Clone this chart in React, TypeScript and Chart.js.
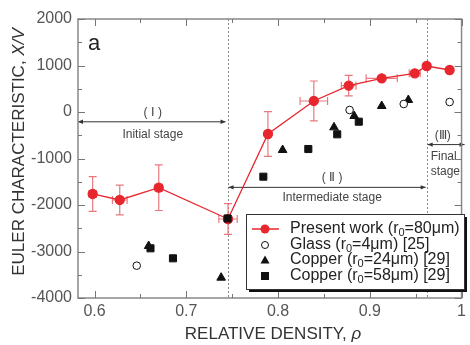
import React, { useEffect, useRef } from "react";
import { Chart, registerables } from "chart.js";

Chart.register(...registerables);

const presentX = [0.598, 0.6275, 0.67, 0.7455, 0.789, 0.839, 0.877, 0.913, 0.949, 0.962, 0.987];
const presentY = [-1763, -1892, -1628, -2301, -473, 237, 566, 724, 832, 989, 903];
const presentYErr = [375, 320, 490, 330, 480, 430, 220, 0, 60, 0, 0];
const presentXErr = [0.004, 0.008, 0.004, 0.01, 0, 0.015, 0.008, 0.017, 0.006, 0, 0];

const glassX = [0.646, 0.878, 0.937, 0.987];
const glassY = [-3305, 43, 172, 215];

const cu24X = [0.659, 0.738, 0.805, 0.861, 0.883, 0.913, 0.942];
const cu24Y = [-2882, -3563, -817, -330, -86, 129, 258];

const cu58X = [0.661, 0.6855, 0.745, 0.784, 0.833, 0.8645, 0.888];
const cu58Y = [-2932, -3147, -2290, -1391, -796, -480, -208];

const xTicks = [0.6, 0.7, 0.8, 0.9, 1.0];
const xMinor = [0.65, 0.75, 0.85, 0.95];
const yTicks = [-4000, -3000, -2000, -1000, 0, 1000, 2000];
const yMinor = [-3500, -2500, -1500, -500, 500, 1500];

const stageBounds = [0.745, 0.962];

const FONT = '"Liberation Sans", Arial, Helvetica, sans-serif';
const RED = "#e8262e";
const ERR = "#e87a7e";

const toPts = (xs: number[], ys: number[]) => xs.map((x, i) => ({ x, y: ys[i] }));

function drawArrowHead(ctx: CanvasRenderingContext2D, x: number, y: number, dir: number) {
  ctx.beginPath();
  ctx.moveTo(x, y);
  ctx.lineTo(x - dir * 5, y - 2.2);
  ctx.lineTo(x - dir * 5, y + 2.2);
  ctx.closePath();
  ctx.fill();
}

function drawSubText(ctx: CanvasRenderingContext2D, x: number, y: number, parts: [string, boolean][]) {
  let cx = x;
  for (const [t, sub] of parts) {
    ctx.font = sub ? `11px ${FONT}` : `16px ${FONT}`;
    ctx.fillText(t, cx, sub ? y + 4 : y);
    cx += ctx.measureText(t).width;
  }
}

const customPlugin = {
  id: "custom",
  beforeDatasetsDraw(chart: any) {
    const { ctx, chartArea: ca, scales } = chart;
    const xs = scales.x, ys = scales.y;
    ctx.save();
    ctx.strokeStyle = "#888";
    ctx.lineWidth = 1;
    ctx.setLineDash([2, 2]);
    for (const b of stageBounds) {
      const px = Math.round(xs.getPixelForValue(b)) + 0.5;
      ctx.beginPath();
      ctx.moveTo(px, ca.top);
      ctx.lineTo(px, ca.bottom);
      ctx.stroke();
    }
    ctx.setLineDash([]);

    ctx.strokeStyle = "#333";
    ctx.fillStyle = "#333";
    const b1 = xs.getPixelForValue(stageBounds[0]);
    const b2 = xs.getPixelForValue(stageBounds[1]);
    const arrows = [
      { x1: ca.left, x2: b1 - 2, y: ys.getPixelForValue(-200) },
      { x1: b1 + 1, x2: b2 - 1, y: ys.getPixelForValue(-1610) },
      { x1: b2 + 1, x2: ca.right + 3, y: ys.getPixelForValue(-690) },
    ];
    for (const a of arrows) {
      ctx.beginPath();
      ctx.moveTo(a.x1, a.y + 0.5);
      ctx.lineTo(a.x2, a.y + 0.5);
      ctx.stroke();
      drawArrowHead(ctx, a.x2, a.y + 0.5, 1);
      drawArrowHead(ctx, a.x1, a.y + 0.5, -1);
    }

    ctx.fillStyle = "#444";
    ctx.textBaseline = "middle";
    ctx.textAlign = "center";
    ctx.font = `12px ${FONT}`;
    const ca1 = (ca.left + b1) / 2;
    ctx.fillText("( Ⅰ )", ca1, arrows[0].y - 9);
    ctx.fillText("Initial stage", ca1, arrows[0].y + 13);
    const ca2 = (b1 + b2) / 2;
    ctx.fillText("( Ⅱ )", ca2 + 5, arrows[1].y - 9);
    ctx.fillText("Intermediate stage", ca2 + 5, arrows[1].y + 11);
    ctx.textAlign = "left";
    ctx.fillText("(Ⅲ)", b2 + 8, arrows[2].y - 8);
    ctx.fillText("Final", b2 + 4, arrows[2].y + 13);
    ctx.fillText("stage", b2 + 4, arrows[2].y + 28);

    ctx.fillStyle = "#222";
    ctx.textAlign = "left";
    ctx.font = `22px ${FONT}`;
    ctx.fillText("a", ca.left + 10, ca.top + 25);

    ctx.strokeStyle = ERR;
    ctx.lineWidth = 1.2;
    for (let i = 0; i < presentX.length; i++) {
      const px = xs.getPixelForValue(presentX[i]);
      const py = ys.getPixelForValue(presentY[i]);
      if (presentYErr[i] > 0) {
        const t = ys.getPixelForValue(presentY[i] + presentYErr[i]);
        const b = ys.getPixelForValue(presentY[i] - presentYErr[i]);
        ctx.beginPath();
        ctx.moveTo(px, t); ctx.lineTo(px, b);
        ctx.moveTo(px - 4, t); ctx.lineTo(px + 4, t);
        ctx.moveTo(px - 4, b); ctx.lineTo(px + 4, b);
        ctx.stroke();
      }
      if (presentXErr[i] > 0) {
        const l = xs.getPixelForValue(presentX[i] - presentXErr[i]);
        const r = xs.getPixelForValue(presentX[i] + presentXErr[i]);
        ctx.beginPath();
        ctx.moveTo(l, py); ctx.lineTo(r, py);
        ctx.moveTo(l, py - 4); ctx.lineTo(l, py + 4);
        ctx.moveTo(r, py - 4); ctx.lineTo(r, py + 4);
        ctx.stroke();
      }
    }
    ctx.restore();
  },
  afterDraw(chart: any) {
    const { ctx, chartArea: ca, scales } = chart;
    const xs = scales.x, ys = scales.y;
    ctx.save();
    ctx.strokeStyle = "#888";
    ctx.lineWidth = 1.5;
    ctx.strokeRect(ca.left, ca.top, ca.right - ca.left, ca.bottom - ca.top);
    ctx.lineWidth = 1;
    ctx.strokeStyle = "#777";
    ctx.beginPath();
    for (const v of xTicks) {
      const p = Math.round(xs.getPixelForValue(v)) + 0.5;
      ctx.moveTo(p, ca.bottom); ctx.lineTo(p, ca.bottom - 7);
      ctx.moveTo(p, ca.top); ctx.lineTo(p, ca.top + 7);
    }
    for (const v of xMinor) {
      const p = Math.round(xs.getPixelForValue(v)) + 0.5;
      ctx.moveTo(p, ca.bottom); ctx.lineTo(p, ca.bottom - 4);
      ctx.moveTo(p, ca.top); ctx.lineTo(p, ca.top + 4);
    }
    for (const v of yTicks) {
      const p = Math.round(ys.getPixelForValue(v)) + 0.5;
      ctx.moveTo(ca.left, p); ctx.lineTo(ca.left + 7, p);
      ctx.moveTo(ca.right, p); ctx.lineTo(ca.right - 7, p);
    }
    for (const v of yMinor) {
      const p = Math.round(ys.getPixelForValue(v)) + 0.5;
      ctx.moveTo(ca.left, p); ctx.lineTo(ca.left + 4, p);
      ctx.moveTo(ca.right, p); ctx.lineTo(ca.right - 4, p);
    }
    ctx.stroke();

    ctx.fillStyle = "#333";
    ctx.textBaseline = "middle";
    ctx.font = `17px ${FONT}`;
    const xt = "RELATIVE DENSITY, ";
    const wxt = ctx.measureText(xt).width;
    ctx.font = `italic 17px ${FONT}`;
    const wr = ctx.measureText("ρ").width;
    const startX = 273 - (wxt + wr) / 2;
    ctx.textAlign = "left";
    ctx.font = `17px ${FONT}`;
    ctx.fillText(xt, startX, 334);
    ctx.font = `italic 17px ${FONT}`;
    ctx.fillText("ρ", startX + wxt, 334);

    ctx.save();
    ctx.translate(19, 152);
    ctx.rotate(-Math.PI / 2);
    ctx.font = `17px ${FONT}`;
    const yt = "EULER CHARACTERISTIC, ";
    const wyt = ctx.measureText(yt).width;
    ctx.font = `italic 17px ${FONT}`;
    const wv = ctx.measureText("X/V").width;
    const sy = -(wyt + wv) / 2;
    ctx.font = `17px ${FONT}`;
    ctx.fillText(yt, sy, 0);
    ctx.font = `italic 17px ${FONT}`;
    ctx.fillText("X/V", sy + wyt, 0);
    ctx.restore();

    const lx = 246, ly = 214, lw = 218, lh = 75;
    ctx.fillStyle = "#111";
    ctx.fillRect(lx + 3, ly + 3, lw, lh);
    ctx.fillStyle = "#fff";
    ctx.fillRect(lx, ly, lw, lh);
    ctx.strokeStyle = "#333";
    ctx.lineWidth = 1;
    ctx.strokeRect(lx + 0.5, ly + 0.5, lw, lh);

    const rows = [229, 245, 260, 276];
    const mx = 265;
    ctx.strokeStyle = RED;
    ctx.lineWidth = 1.5;
    ctx.beginPath();
    ctx.moveTo(252, rows[0]); ctx.lineTo(279, rows[0]);
    ctx.stroke();
    ctx.fillStyle = RED;
    ctx.beginPath(); ctx.arc(mx, rows[0], 4.5, 0, Math.PI * 2); ctx.fill();
    ctx.strokeStyle = "#111";
    ctx.lineWidth = 1;
    ctx.fillStyle = "#fff";
    ctx.beginPath(); ctx.arc(mx, rows[1], 3.5, 0, Math.PI * 2); ctx.fill(); ctx.stroke();
    ctx.fillStyle = "#111";
    ctx.beginPath();
    ctx.moveTo(mx, rows[2] - 4.5); ctx.lineTo(mx + 4.5, rows[2] + 3.5); ctx.lineTo(mx - 4.5, rows[2] + 3.5);
    ctx.closePath(); ctx.fill();
    ctx.fillRect(mx - 4, rows[3] - 4, 8, 8);

    ctx.fillStyle = "#222";
    ctx.textAlign = "left";
    ctx.textBaseline = "middle";
    const tx = 290;
    drawSubText(ctx, tx, rows[0], [["Present work (r", false], ["0", true], ["=80μm)", false]]);
    drawSubText(ctx, tx, rows[1], [["Glass (r", false], ["0", true], ["=4μm) [25]", false]]);
    drawSubText(ctx, tx, rows[2], [["Copper (r", false], ["0", true], ["=24μm) [29]", false]]);
    drawSubText(ctx, tx, rows[3], [["Copper (r", false], ["0", true], ["=58μm) [29]", false]]);
    ctx.restore();
  },
};

export default function App() {
  const ref = useRef<HTMLCanvasElement>(null);
  useEffect(() => {
    if (!ref.current) return;
    const chart = new Chart(ref.current, {
      type: "scatter",
      data: {
        datasets: [
          {
            label: "Present work",
            data: toPts(presentX, presentY),
            showLine: true,
            borderColor: RED,
            borderWidth: 1.3,
            backgroundColor: RED,
            pointBackgroundColor: RED,
            pointBorderColor: RED,
            pointRadius: 4.5,
            pointStyle: "circle",
            order: 2,
          },
          {
            label: "Glass",
            data: toPts(glassX, glassY),
            pointStyle: "circle",
            pointRadius: 3.8,
            pointBackgroundColor: "#fff",
            pointBorderColor: "#111",
            pointBorderWidth: 1,
            order: 1,
          },
          {
            label: "Copper 24",
            data: toPts(cu24X, cu24Y),
            pointStyle: "triangle",
            pointRadius: 5,
            pointBackgroundColor: "#111",
            pointBorderColor: "#111",
            order: 1,
          },
          {
            label: "Copper 58",
            data: toPts(cu58X, cu58Y),
            pointStyle: "rect",
            pointRadius: 5,
            pointBackgroundColor: "#111",
            pointBorderColor: "#111",
            order: 1,
          },
        ],
      },
      options: {
        animation: false,
        responsive: false,
        devicePixelRatio: 1,
        layout: { padding: { left: 0, right: 2, top: 19, bottom: 0 } },
        plugins: { legend: { display: false }, tooltip: { enabled: false } },
        scales: {
          x: {
            type: "linear",
            min: 0.582,
            max: 1.0,
            grid: { display: false, drawTicks: false },
            border: { display: false },
            afterFit: (s: any) => { s.height = 47; },
            afterBuildTicks: (s: any) => { s.ticks = xTicks.map((v) => ({ value: v })); },
            ticks: {
              padding: 4,
              color: "#555",
              font: { family: FONT, size: 16 },
              callback: (v: any) => (Number(v) === 1 ? "1" : Number(v).toFixed(1)),
            },
          },
          y: {
            type: "linear",
            min: -4000,
            max: 2000,
            grid: { display: false, drawTicks: false },
            border: { display: false },
            afterFit: (s: any) => { s.width = 78; },
            afterBuildTicks: (s: any) => { s.ticks = yTicks.map((v) => ({ value: v })); },
            ticks: {
              padding: 6,
              color: "#555",
              font: { family: FONT, size: 16 },
              callback: (v: any) => String(v),
            },
          },
        },
      },
      plugins: [customPlugin],
    });
    return () => chart.destroy();
  }, []);
  return (
    <div style={{ position: "fixed", left: 0, top: 0, width: 470, height: 345, background: "#fff" }}>
      <canvas ref={ref} width={470} height={345} style={{ display: "block" }} />
    </div>
  );
}
